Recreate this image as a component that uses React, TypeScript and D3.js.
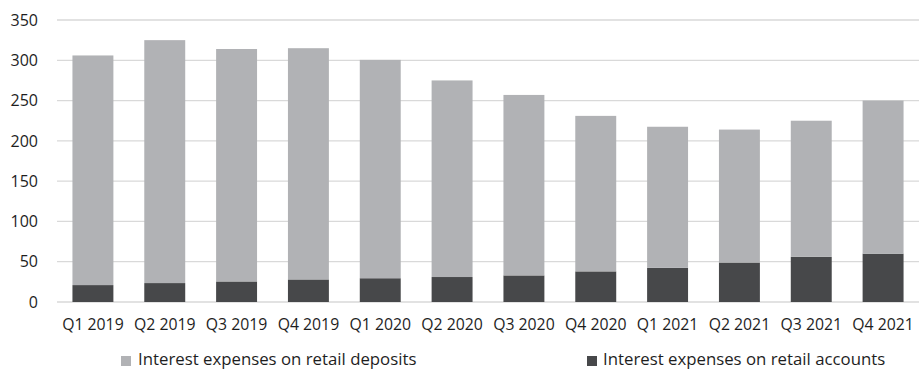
import React from "react";
import * as d3 from "d3";

const categories = ["Q1 2019","Q2 2019","Q3 2019","Q4 2019","Q1 2020","Q2 2020","Q3 2020","Q4 2020","Q1 2021","Q2 2021","Q3 2021","Q4 2021"];
const retailAccounts = [21, 23.5, 25.5, 28, 29.5, 31, 33, 38, 42.5, 49, 56, 60];
const retailDeposits = [285, 301.5, 288.5, 287, 271, 244, 224, 193, 175, 165, 169, 190];
const yTicks = [0, 50, 100, 150, 200, 250, 300, 350];
const seriesNames = ["Interest expenses on retail deposits", "Interest expenses on retail accounts"];

const W = 919, H = 369;
const FONT = "'Open Sans', sans-serif";
const LIGHT = "#b1b2b5";
const DARK = "#47484a";

export default function App() {
  const x = d3.scaleBand<string>().domain(categories).range([57, 919]).paddingInner(0.43).paddingOuter(0.215);
  const y = d3.scaleLinear().domain([0, 350]).range([302, 20]);
  const rows = categories.map((c, i) => ({ cat: c, accounts: retailAccounts[i], deposits: retailDeposits[i] }));
  const stacked = d3.stack<any>().keys(["accounts", "deposits"])(rows);
  const colors: Record<string, string> = { accounts: DARK, deposits: LIGHT };
  return (
    <svg width={W} height={H} style={{ position: "absolute", left: 0, top: 0, background: "#fff" }} fontFamily={FONT}>
      {yTicks.map(t => (
        <g key={t}>
          <line x1={57} x2={919} y1={y(t)} y2={y(t)} stroke="#d9d9d9" strokeWidth={1.3} />
          <text x={38} y={y(t)} dy="0.36em" textAnchor="end" fontSize={16} fill="#1e1e1e">{t}</text>
        </g>
      ))}
      {stacked.map(s => (
        <g key={s.key} fill={colors[s.key]}>
          {s.map((d, i) => (
            <rect key={i} x={x(categories[i])} width={x.bandwidth()} y={y(d[1])} height={y(d[0]) - y(d[1])} />
          ))}
        </g>
      ))}
      {categories.map(c => (
        <text key={c} x={(x(c) as number) + x.bandwidth() / 2} y={330} textAnchor="middle" fontSize={15.8} fill="#1e1e1e">{c}</text>
      ))}
      <rect x={121} y={356} width={10} height={10} fill={LIGHT} />
      <text x={138} y={364.5} fontSize={16.8} fill="#1e1e1e">{seriesNames[0]}</text>
      <rect x={587} y={356} width={10} height={10} fill={DARK} />
      <text x={603} y={364.5} fontSize={16.8} fill="#1e1e1e">{seriesNames[1]}</text>
    </svg>
  );
}
